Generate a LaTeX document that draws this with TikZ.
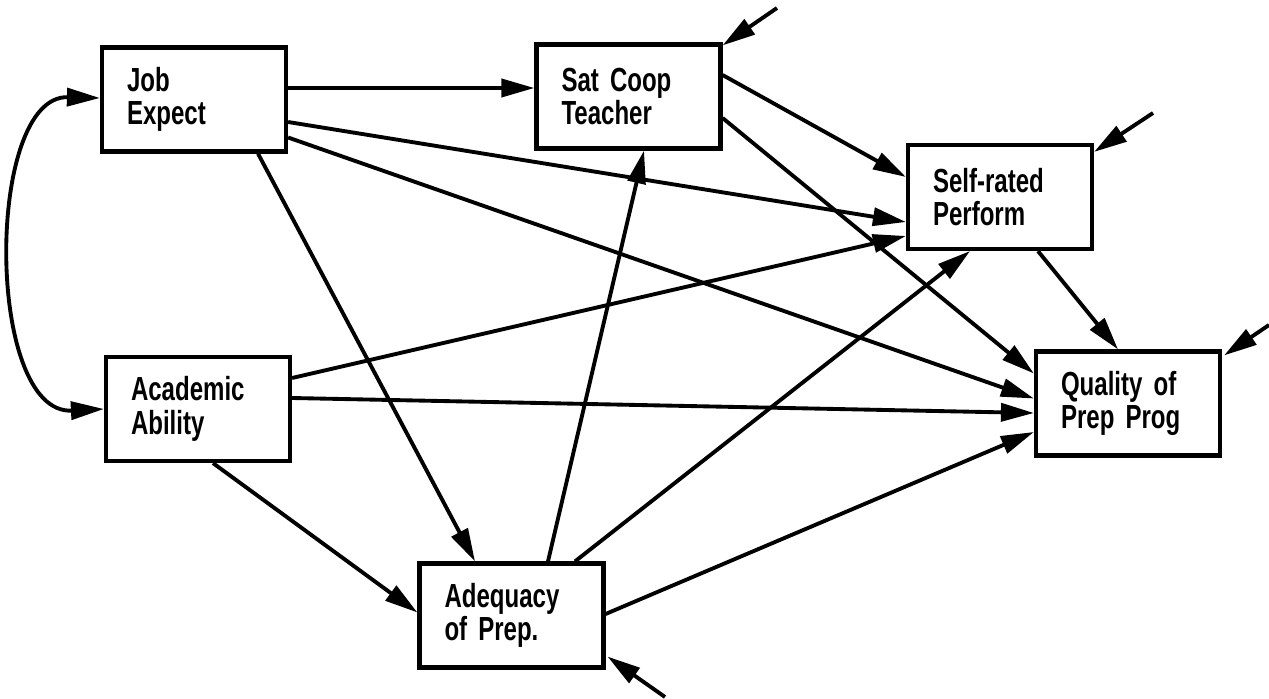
\documentclass[tikz,border=0pt]{standalone}
\usepackage{fontspec}
\setmainfont{Liberation Sans}[FakeStretch=0.72]
\usepackage{tikz}
\usetikzlibrary{arrows.meta,calc}
\tikzset{
var/.style={draw, line width=2.4pt, text width=2.68cm, inner xsep=0.5cm, inner ysep=0pt,
  minimum height=2.08cm, align=left, font=\fontsize{19}{19}\selectfont\bfseries},
link/.style={line width=2.2pt, -{Triangle[length=0.66cm,width=0.36cm]}},
both/.style={line width=2.2pt, {Triangle[length=0.66cm,width=0.36cm]}-{Triangle[length=0.66cm,width=0.36cm]}}
}

\begin{document}
\begin{tikzpicture}[x=0.02cm, y=-0.02cm]
  \useasboundingbox (0,0) rectangle (1269,699);
  \node[var] (job) at (194,99.5) {Job\\Expect};
  \node[var] (sat) at (628.5,96.5) {Sat Coop\\Teacher};
  \node[var] (self) at (1000,197) {Self-rated\\Perform};
  \node[var] (aca) at (198,409) {Academic\\Ability};
  \node[var] (qual) at (1128,403.5) {Quality of\\Prep Prog};
  \node[var] (adeq) at (511.5,615.5) {Adequacy\\of Prep.};
  % disturbance terms
  \coordinate (e1) at (777,8);
  \coordinate (e2) at (1153,113);
  \coordinate (e3) at (1269,325);
  \coordinate (e4) at (665,697);
  \draw[both] ($(job.west)+(0,-1.5)$) .. controls (-15,95) and (-15,415) .. (aca.west);
  \draw[link] ($(job.east)+(0,-11.5)$) -- ($(sat.west)+(0,-8.5)$);
  \draw[link] ($(job.east)+(0,22.5)$) -- ($(self.west)+(0,25)$);
  \draw[link] ($(job.east)+(0,38)$) -- ($(qual.west)+(0,-5)$);
  \draw[link] ($(job.south)+(64,0)$) -- ($(adeq.north)+(-36.5,0)$);
  \draw[link] ($(sat.east)+(0,-21.5)$) -- ($(self.west)+(0,-20)$);
  \draw[link] ($(sat.east)+(0,21.5)$) -- ($(qual.west)+(0,-30)$);
  \draw[link] ($(self.south)+(38,0)$) -- ($(qual.north)+(-10,0)$);
  \draw[link] ($(aca.east)+(0,-31)$) -- ($(self.west)+(0,39)$);
  \draw[link] ($(aca.east)+(0,-11)$) -- ($(qual.west)+(0,9.5)$);
  \draw[link] ($(aca.south)+(15,0)$) -- ($(adeq.west)+(0,-3)$);
  \draw[link] ($(adeq.north)+(36.5,0)$) -- ($(sat.south)+(15.5,0)$);
  \draw[link] ($(adeq.north)+(63.5,0)$) -- ($(self.south)+(-30,0)$);
  \draw[link] ($(adeq.east)+(0,-1.5)$) -- ($(qual.west)+(0,28.5)$);
  \draw[link] (e1) -- ($(sat.north east)+(0,3)$);
  \draw[link] (e2) -- ($(self.north east)+(0,9)$);
  \draw[link] (e3) -- ($(qual.north east)+(2,6)$);
  \draw[link] (e4) -- ($(adeq.south east)+(2,-13)$);
\end{tikzpicture}
\end{document}
